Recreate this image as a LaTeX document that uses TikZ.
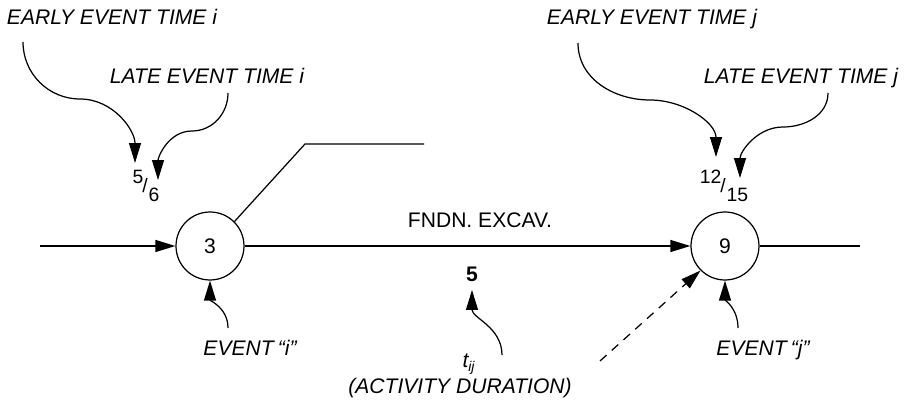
\documentclass[tikz,border=0pt]{standalone}
\usepackage{fontspec}
\setmainfont{Liberation Sans}
\usetikzlibrary{arrows.meta}

\begin{document}
\begin{tikzpicture}[x=0.02cm, y=0.02cm]
\tikzstyle{event}=[circle, minimum size = 13.6mm, inner sep=0pt, line width=0.7pt, draw=black, font=\fontsize{12}{14}\selectfont]
\tikzstyle{connect}=[-{Triangle[length=4mm, width=2.4mm]}, line width=0.7pt]
\tikzstyle{line}=[line width=0.7pt]
\tikzstyle{note}=[inner sep=0pt, anchor=base, font=\fontsize{12}{14}\selectfont\itshape]
\tikzstyle{plain}=[inner sep=0pt, anchor=base, font=\fontsize{12}{14}\selectfont]
\tikzstyle{frac}=[inner sep=0pt, font=\fontsize{11}{13}\selectfont]
  \useasboundingbox (0,0) rectangle (904,403);
  % events i and j
  \node[event] (n3) at (210,157) {3};
  \node[event] (n9) at (725,157) {9};
  % times
  \node[frac] (ti) at (146,217) {\raisebox{5pt}{5}\kern-0.5pt/\kern0.5pt\raisebox{-5pt}{6}};
  \node[frac] (tj) at (724,217) {\raisebox{5pt}{12}\kern-0.5pt/\kern0.5pt\raisebox{-5pt}{15}};
  % labels
  \node[note] (earlyi) at (112,378) {EARLY EVENT TIME i};
  \node[note] (latei) at (207,319) {LATE EVENT TIME i};
  \node[note] (earlyj) at (652,378) {EARLY EVENT TIME j};
  \node[note] (latej) at (801,319) {LATE EVENT TIME j};
  \node[note] (eventi) at (250,48) {EVENT \kern-1pt“i”};
  \node[note] (eventj) at (763,48) {EVENT \kern-1pt“j”};
  % activity
  \node[plain] (act) at (480,175) {FNDN. EXCAV.};
  \node[plain] (dur) at (472,121) {\textbf{5}};
  \node[note] (tij) at (469,35) {t\textsubscript{ij}};
  \node[note] (actdur) at (460,10) {(ACTIVITY DURATION)};
  % free ends
  \coordinate (in) at (40,157);
  \coordinate (out) at (860,157);
  \coordinate (ledger) at (305,259);
  \coordinate (ledger-end) at (424,259);
  \coordinate (ei-from) at (23,361);
  \coordinate (ei-bend) at (80,304);
  \coordinate (ei-to) at (135,240);
  \coordinate (li-from) at (228,310);
  \coordinate (li-bend) at (192,272);
  \coordinate (li-to) at (158,223);
  \coordinate (ej-from) at (578,360);
  \coordinate (ej-bend) at (650,303);
  \coordinate (ej-to) at (716,246);
  \coordinate (lj-from) at (828,310);
  \coordinate (lj-bend) at (783,276);
  \coordinate (lj-to) at (740,225);
  \coordinate (evi-from) at (228,75);
  \coordinate (evj-from) at (738,75);
  \coordinate (dur-from) at (502,48);
  \coordinate (dur-to) at (472,113);
  \coordinate (dash-from) at (600,42);
  % network
  \draw[connect] (in) -- (n3);
  \draw[connect] (n3) -- (n9);
  \draw[line] (n9) -- (out);
  \draw[line] (n3.45) -- (ledger) -- (ledger-end);
  % pointers
  \draw[connect] (ei-from) to[out=-90, in=180] (ei-bend) to[out=0, in=90] (ei-to);
  \draw[connect] (li-from) to[out=-90, in=0] (li-bend) to[out=180, in=90] (li-to);
  \draw[connect] (ej-from) to[out=-90, in=180] (ej-bend) to[out=0, in=90] (ej-to);
  \draw[connect] (lj-from) to[out=-90, in=0] (lj-bend) to[out=180, in=90] (lj-to);
  \draw[connect] (evi-from) to[out=90, in=-90] (n3.south);
  \draw[connect] (evj-from) to[out=90, in=-90] (n9.south);
  \draw[connect] (dur-from) to[out=90, in=-90] (dur-to);
  \draw[connect, dash pattern=on 5pt off 4pt] (dash-from) -- (n9.225);
\end{tikzpicture}
\end{document}
